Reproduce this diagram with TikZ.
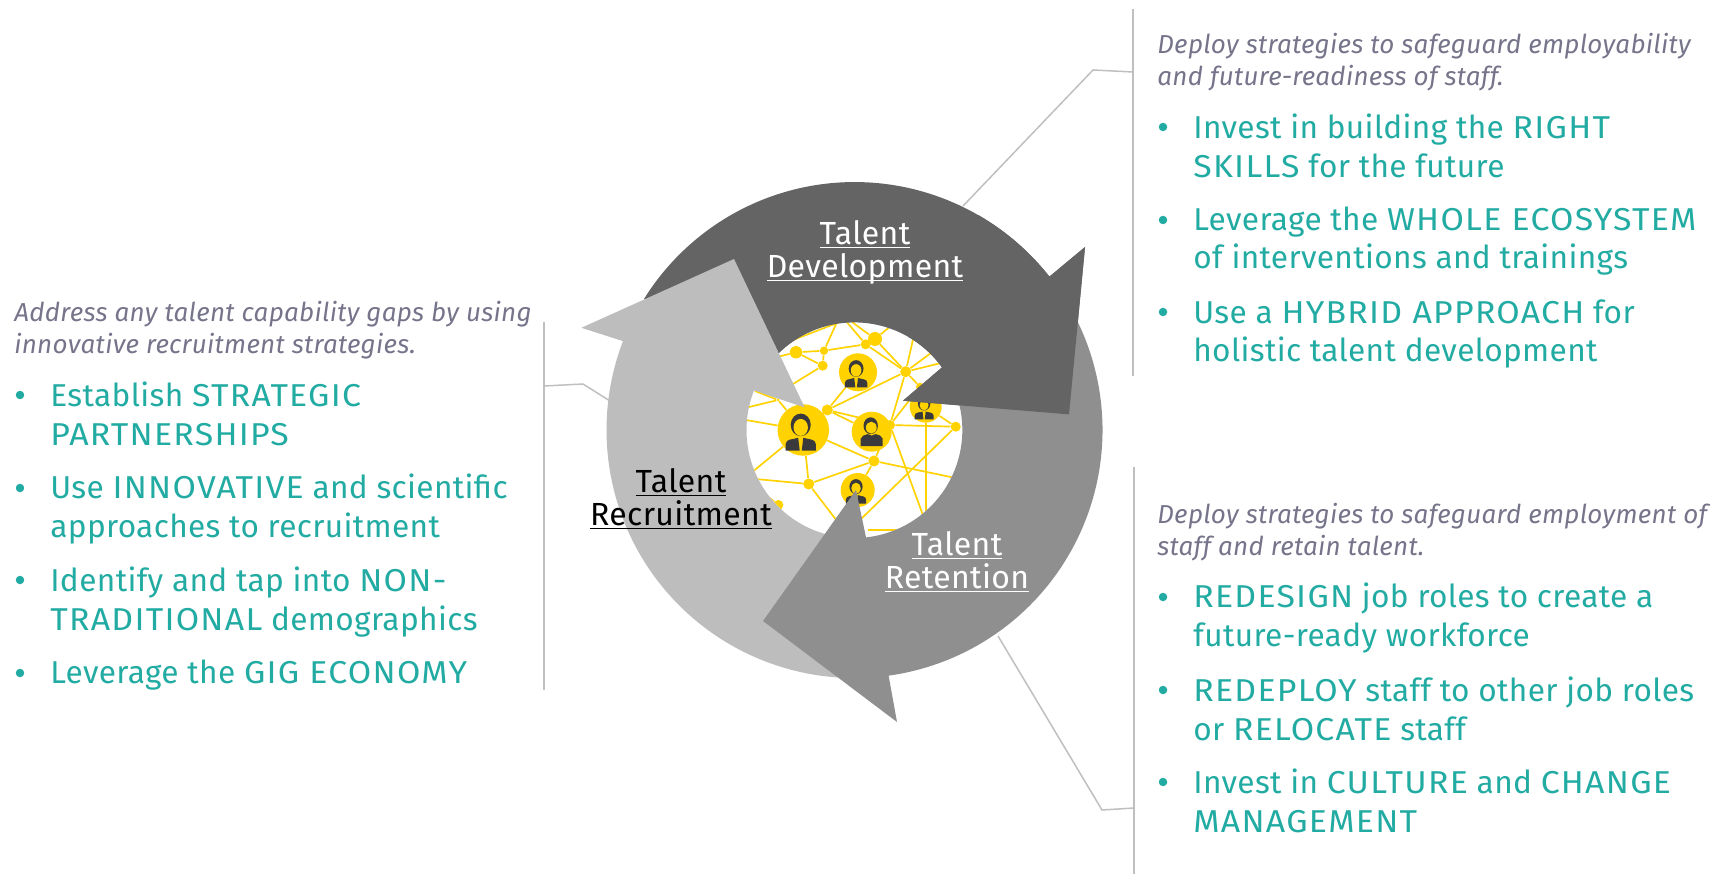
\documentclass[tikz,border=0pt]{standalone}
\usepackage{fontspec}
\setmainfont{Fira Sans}[LetterSpace=1.1]
\definecolor{tealtext}{HTML}{22ABA2}
\definecolor{introgray}{HTML}{75748A}
\definecolor{leadergray}{HTML}{BFBFBF}
\definecolor{devgray}{HTML}{646464}
\definecolor{retgray}{HTML}{8F8F8F}
\definecolor{recgray}{HTML}{BDBDBD}
\definecolor{netyellow}{HTML}{FFD200}
\definecolor{iconink}{HTML}{3A3A3C}
\newcommand{\ulword}[1]{\underline{\smash{#1}}}
\newcommand{\capsp}[1]{{\addfontfeature{FakeStretch=1.07,LetterSpace=4}#1}}
\tikzset{
  leader/.style={draw=leadergray,line width=0.85pt},
  intro/.style={anchor=west,align=left,inner sep=0pt,text=introgray,font=\fontsize{14.8}{18}\selectfont\itshape},
  bullettext/.style={anchor=west,align=left,inner sep=0pt,text=tealtext,font=\fontsize{18}{21.8}\selectfont},
  bulletmark/.style={circle,fill=tealtext,inner sep=0pt,minimum size=0.17cm},
  ringlabel/.style={align=center,inner sep=0pt,font=\fontsize{18.2}{18.6}\selectfont},
  netline/.style={draw=netyellow,line width=0.95pt},
  netdot/.style={circle,fill=netyellow,inner sep=0pt},
  persondisc/.style={circle,fill=netyellow,inner sep=0pt},
  personsuit/.pic={
    \fill[iconink] (-.1,.2) ellipse [x radius=.39,y radius=.44];
    \fill[netyellow] (-.1,.1) ellipse [x radius=.28,y radius=.33];
    \fill[iconink] (-.69,-.8) -- (-.69,-.55) to[out=85,in=200] (-.2,-.3) -- (-.14,-.8) -- cycle;
    \fill[iconink] (.49,-.8) -- (.49,-.55) to[out=95,in=-20] (0,-.3) -- (-.06,-.8) -- cycle;
  },
  personplain/.pic={
    \fill[iconink] (-.05,.3) ellipse [x radius=.36,y radius=.42];
    \fill[netyellow] (-.02,.2) ellipse [x radius=.27,y radius=.3];
    \fill[iconink] (-.55,-.72) -- (-.55,-.35) to[out=80,in=200] (-.2,-.12) to[out=-40,in=220] (.2,-.12) to[out=-20,in=100] (.55,-.35) -- (.55,-.72) -- cycle;
  }
}
\begin{document}
\begin{tikzpicture}[x=0.02cm,y=0.02cm]
  \useasboundingbox (0,0) rectangle (1716,-874);

  \coordinate (ctr) at (854.5,-430);
  \coordinate (devtop) at (1133,-9);
  \coordinate (devbot) at (1133,-376);
  \coordinate (devjoin) at (1133,-72);
  \coordinate (devbend) at (1093,-70);
  \coordinate (devend) at (963,-206);
  \coordinate (rettop) at (1134,-467);
  \coordinate (retbot) at (1134,-874);
  \coordinate (retjoin) at (1134,-808);
  \coordinate (retbend) at (1102,-810);
  \coordinate (retend) at (998,-636);
  \coordinate (rectop) at (544,-322);
  \coordinate (recbot) at (544,-690);
  \coordinate (recjoin) at (544,-386);
  \coordinate (recbend) at (583,-384);
  \coordinate (recend) at (610,-401);
  \draw[leader] (devtop) -- (devbot);
  \draw[leader] (devjoin) -- (devbend) -- (devend);
  \draw[leader] (rettop) -- (retbot);
  \draw[leader] (retjoin) -- (retbend) -- (retend);
  \draw[leader] (rectop) -- (recbot);
  \draw[leader] (recjoin) -- (recbend) -- (recend);

  \fill[white] (ctr) circle [radius=108];
  \begin{scope}
    \clip (ctr) circle [radius=108];
    \node[netdot,minimum size=0.25cm] (n1) at (796,-352.3) {};
    \node[netdot,minimum size=0.17cm] (n2) at (824,-350.7) {};
    \node[netdot,minimum size=0.2cm] (n3) at (822.7,-365.7) {};
    \node[netdot,minimum size=0.2cm] (n4) at (865.7,-344.3) {};
    \node[netdot,minimum size=0.28cm] (n5) at (875,-339) {};
    \node[netdot,minimum size=0.22cm] (n6) at (905.7,-371.7) {};
    \node[netdot,minimum size=0.22cm] (n7) at (827.3,-410) {};
    \node[netdot,minimum size=0.2cm] (n8) at (890,-425) {};
    \node[netdot,minimum size=0.2cm] (n9) at (955.7,-426.7) {};
    \node[netdot,minimum size=0.22cm] (n10) at (874,-461) {};
    \node[netdot,minimum size=0.22cm] (n11) at (808.7,-484) {};
    \node[netdot,minimum size=0.2cm] (n12) at (778.3,-505) {};
    \node[netdot,minimum size=0.16cm] (n13) at (920,-386.7) {};
    \node[netdot,minimum size=0.06cm] (n14) at (778,-400) {};
    \node[persondisc,minimum size=0.76cm] (p1) at (858,-372.3) {};
    \node[persondisc,minimum size=1.03cm] (p2) at (803.3,-430) {};
    \node[persondisc,minimum size=0.8cm] (p3) at (871.7,-431.7) {};
    \node[persondisc,minimum size=0.68cm] (p4) at (857.7,-490) {};
    \node[persondisc,minimum size=0.64cm] (p5) at (925.7,-406.7) {};
    \coordinate (e1) at (780,-392);
    \coordinate (e2) at (837,-322);
    \coordinate (e3) at (845,-320);
    \coordinate (e4) at (892,-325);
    \coordinate (e5) at (914,-335);
    \coordinate (e6) at (935,-350);
    \coordinate (e7) at (945,-362);
    \coordinate (e8) at (924,-518);
    \coordinate (e9) at (860,-520);
    \coordinate (e10) at (925.7,-520);
    \coordinate (e11) at (965,-480);
    \coordinate (e12) at (745,-478);
    \coordinate (e13) at (840,-525);
    \coordinate (e14) at (746,-420);
    \coordinate (e15) at (745,-408);
    \coordinate (e16) at (755,-391);
    \coordinate (e17) at (780,-345);
    \coordinate (e18) at (868,-530);
    \coordinate (e19) at (905,-530);
    \coordinate (e20) at (790,-530);
    \coordinate (e21) at (852,-322);
    \coordinate (e22) at (765,-360);
    \begin{scope}[netline]
      \draw (n1) -- (n2);
      \draw (n1) -- (n3);
      \draw (n1) -- (e22);
      \draw (n2) -- (n4);
      \draw (n2) -- (n3);
      \draw (n2) -- (e2);
      \draw (n3) -- (e1);
      \draw (e17) -- (e3);
      \draw (e21) -- (n5);
      \draw (e3) -- (n4);
      \draw (n4) -- (n5);
      \draw (n4) -- (n6);
      \draw (n5) -- (n6);
      \draw (n5) -- (e4);
      \draw (n6) -- (e5);
      \draw (n6) -- (e6);
      \draw (n6) -- (e7);
      \draw (n6) -- (n7);
      \draw (n6) -- (n8);
      \draw (n6) -- (n13);
      \draw (n7) -- (p1);
      \draw (n7) -- (p2);
      \draw (n7) -- (p3);
      \draw (n7) -- (n8);
      \draw (n8) -- (n9);
      \draw (n8) -- (n13);
      \draw (n8) -- (e8);
      \draw (n9) -- (p5);
      \draw (n9) -- (e9);
      \draw (p5) -- (e10);
      \draw (n10) -- (p2);
      \draw (n10) -- (n11);
      \draw (n10) -- (p4);
      \draw (n10) -- (n8);
      \draw (n10) -- (e11);
      \draw (n11) -- (p2);
      \draw (n11) -- (e12);
      \draw (n11) -- (e13);
      \draw (p2) -- (e12);
      \draw (p2) -- (e14);
      \draw (p2) -- (n14);
      \draw (n14) -- (e15);
      \draw (n14) -- (e16);
      \draw (n12) -- (e12);
      \draw (n12) -- (e20);
      \draw (e18) -- (e19);
    \end{scope}
    \pic[scale=19] at (p1) {personsuit};
    \pic[scale=25.7] at (p2) {personsuit};
    \pic[scale=20] at (p3) {personplain};
    \pic[scale=17] at (p4) {personsuit};
    \pic[scale=16] at (p5) {personsuit};
  \end{scope}

  \fill[devgray] (644,-299) arc [start angle=148.1,end angle=38.2,radius=248]
    -- (1085,-247) -- (1069,-414.4) -- (903,-400.7) -- (942,-367.4)
    arc [start angle=35.7,end angle=150,radius=108] -- cycle;
  \fill[recgray] (854.5,-678) arc [start angle=270,end angle=159,radius=248]
    -- (581.4,-327.8) -- (734,-259) -- (804.6,-407.4) -- (754,-390.5)
    arc [start angle=158.5,end angle=270,radius=108] -- cycle;
  \fill[retgray] (1069.3,-306) arc [start angle=30,end angle=-82.1,radius=248]
    -- (897,-722) -- (763,-621) -- (856,-490) -- (866,-537.4)
    arc [start angle=-83.8,end angle=30,radius=108] -- cycle;
  \fill[devgray] (978.5,-215.2) arc [start angle=60,end angle=38.2,radius=248]
    -- (1085,-247) -- (1069,-414.4) -- (903,-400.7) -- (942,-367.4)
    arc [start angle=35.7,end angle=60,radius=108] -- cycle;

  \node[ringlabel,text=white] (devlabel) at (865,-263) {\ulword{Talent}\\\ulword{Development}};
  \node[ringlabel,text=white] (retlabel) at (957,-574) {\ulword{Talent}\\\ulword{Retention}};
  \node[ringlabel,text=black] (reclabel) at (681,-511) {\ulword{Talent}\\\ulword{Recruitment}};

  \node[intro] (devintro) at (1157,-62) {Deploy strategies to safeguard employability\\and future-readiness of staff.};
  \node[bulletmark] (devm1) at (1163,-127) {};
  \node[bulletmark] (devm2) at (1163,-220) {};
  \node[bulletmark] (devm3) at (1163,-312) {};
  \node[bullettext] (devt1) at (1193,-146) {Invest in building the \capsp{RIGHT}\\\capsp{SKILLS} for the future};
  \node[bullettext] (devt2) at (1193,-241) {Leverage the \capsp{WHOLE ECOSYSTEM}\\of interventions and trainings};
  \node[bullettext] (devt3) at (1193,-334) {Use a \capsp{HYBRID APPROACH} for\\holistic talent development};

  \node[intro] (retintro) at (1157,-532) {Deploy strategies to safeguard employment of\\staff and retain talent.};
  \node[bulletmark] (retm1) at (1163,-597) {};
  \node[bulletmark] (retm2) at (1163,-690) {};
  \node[bulletmark] (retm3) at (1163,-782) {};
  \node[bullettext] (rett1) at (1193,-618) {\capsp{REDESIGN} job roles to create a\\future-ready workforce};
  \node[bullettext] (rett2) at (1193,-709) {\capsp{REDEPLOY} staff to other job roles\\or \capsp{RELOCATE} staff};
  \node[bullettext] (rett3) at (1193,-801) {Invest in \capsp{CULTURE} and \capsp{CHANGE}\\\capsp{MANAGEMENT}};

  \node[intro] (recintro) at (14,-330) {Address any talent capability gaps by using\\innovative recruitment strategies.};
  \node[bulletmark] (recm1) at (20,-395) {};
  \node[bulletmark] (recm2) at (20,-488) {};
  \node[bulletmark] (recm3) at (20,-580) {};
  \node[bulletmark] (recm4) at (20,-673) {};
  \node[bullettext] (rect1) at (50,-414) {Establish \capsp{STRATEGIC}\\\capsp{PARTNERSHIPS}};
  \node[bullettext] (rect2) at (50,-509) {Use \capsp{INNOVATIVE} and scientific\\approaches to recruitment};
  \node[bullettext] (rect3) at (50,-602) {Identify and tap into \capsp{NON-}\\\capsp{TRADITIONAL} demographics};
  \node[bullettext] (rect4) at (50,-675) {Leverage the \capsp{GIG ECONOMY}};
\end{tikzpicture}
\end{document}
